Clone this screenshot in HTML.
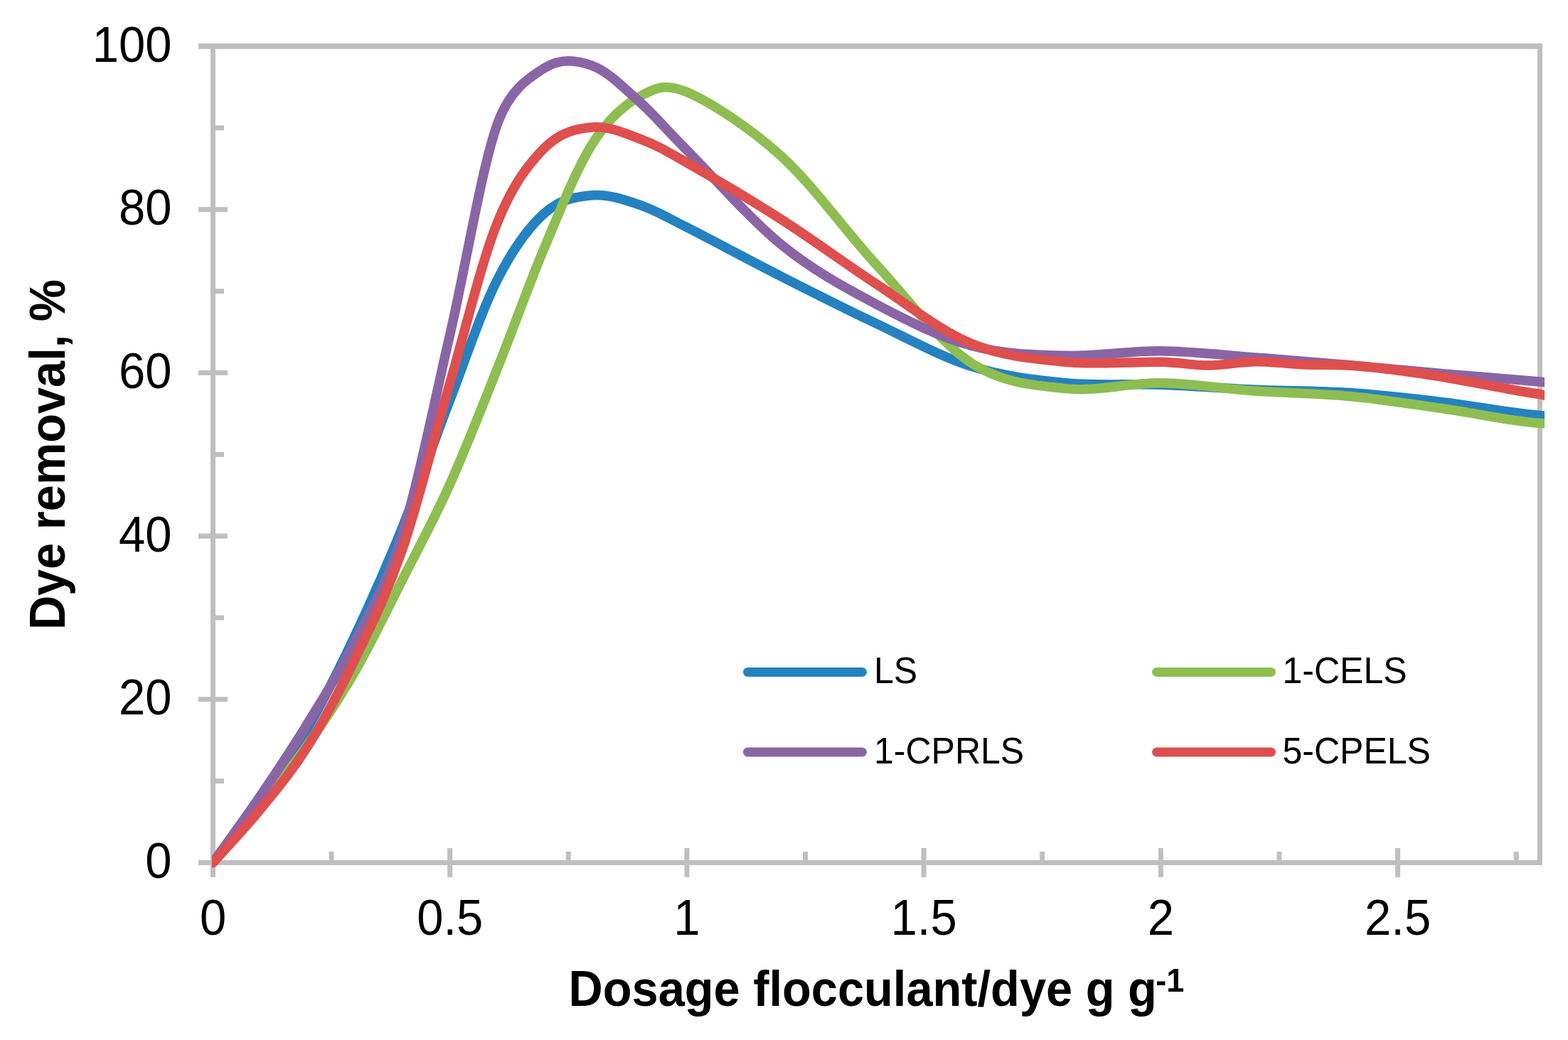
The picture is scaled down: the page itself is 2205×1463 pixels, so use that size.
<!DOCTYPE html>
<html><head><meta charset="utf-8"><title>Dye removal chart</title>
<style>html,body{margin:0;padding:0;background:#fff;}svg{display:block;}</style></head>
<body><svg xmlns="http://www.w3.org/2000/svg" width="2205" height="1463" viewBox="0 0 2205 1463">
<rect x="0" y="0" width="2205" height="1463" fill="#fff"/>
<rect x="279" y="61" width="1890" height="8" fill="#BFBFBF"/>
<rect x="2162" y="61" width="7" height="1156" fill="#BFBFBF"/>
<rect x="279" y="1210" width="1890" height="7" fill="#BFBFBF"/>
<rect x="296" y="61" width="7" height="1173" fill="#BFBFBF"/>
<rect x="279" y="1210.0" width="41" height="7" fill="#BFBFBF"/>
<rect x="279" y="980.3" width="41" height="7" fill="#BFBFBF"/>
<rect x="279" y="750.6" width="41" height="7" fill="#BFBFBF"/>
<rect x="279" y="520.9" width="41" height="7" fill="#BFBFBF"/>
<rect x="279" y="291.2" width="41" height="7" fill="#BFBFBF"/>
<rect x="279" y="61.5" width="41" height="7" fill="#BFBFBF"/>
<rect x="303" y="1095.2" width="12" height="7" fill="#BFBFBF"/>
<rect x="303" y="865.5" width="12" height="7" fill="#BFBFBF"/>
<rect x="303" y="635.8" width="12" height="7" fill="#BFBFBF"/>
<rect x="303" y="406.1" width="12" height="7" fill="#BFBFBF"/>
<rect x="303" y="176.4" width="12" height="7" fill="#BFBFBF"/>
<rect x="296.0" y="1193" width="7" height="41" fill="#BFBFBF"/>
<rect x="629.2" y="1193" width="7" height="41" fill="#BFBFBF"/>
<rect x="962.4" y="1193" width="7" height="41" fill="#BFBFBF"/>
<rect x="1295.6" y="1193" width="7" height="41" fill="#BFBFBF"/>
<rect x="1628.9" y="1193" width="7" height="41" fill="#BFBFBF"/>
<rect x="1962.1" y="1193" width="7" height="41" fill="#BFBFBF"/>
<rect x="462.6" y="1198" width="7" height="12" fill="#BFBFBF"/>
<rect x="795.8" y="1198" width="7" height="12" fill="#BFBFBF"/>
<rect x="1129.0" y="1198" width="7" height="12" fill="#BFBFBF"/>
<rect x="1462.2" y="1198" width="7" height="12" fill="#BFBFBF"/>
<rect x="1795.5" y="1198" width="7" height="12" fill="#BFBFBF"/>
<rect x="2128.7" y="1198" width="7" height="12" fill="#BFBFBF"/>
<defs><clipPath id="pc"><rect x="298" y="0" width="1874" height="1463"/></clipPath></defs>
<g clip-path="url(#pc)" fill="none" stroke-width="13.5" stroke-linecap="round" stroke-linejoin="round">
<path stroke="#2482C1" d="M299.50,1213.50 C310.61,1199.28 343.93,1159.77 366.14,1128.17 C388.36,1096.57 410.57,1063.00 432.79,1023.91 C455.00,984.83 477.21,940.74 499.43,893.65 C521.64,846.57 543.86,796.55 566.07,741.39 C588.29,686.23 610.50,620.66 632.71,562.69 C654.93,504.71 677.14,437.38 699.36,393.54 C721.57,349.71 743.79,319.46 766.00,299.66 C788.21,279.86 810.43,276.65 832.64,274.73 C854.86,272.81 877.07,280.63 899.29,288.15 C921.50,295.66 933.00,303.18 965.93,319.81 C999.25,336.65 1054.79,366.60 1099.21,389.17 C1143.64,411.74 1188.07,434.22 1232.50,455.23 C1276.93,476.24 1321.36,501.31 1365.79,515.22 C1410.21,529.14 1454.64,534.39 1499.07,538.72 C1543.50,543.04 1587.93,539.60 1632.36,541.18 C1676.79,542.76 1721.21,546.28 1765.64,548.18 C1810.07,550.09 1854.50,549.61 1898.93,552.60 C1943.36,555.59 1987.79,560.81 2032.21,566.13 C2076.64,571.45 2121.07,580.61 2165.50,584.54 C2209.93,588.47 2276.57,588.85 2298.79,589.71"/>
<path stroke="#8EBE51" d="M299.50,1213.50 C310.61,1200.33 343.93,1162.15 366.14,1134.48 C388.36,1106.80 410.57,1079.18 432.79,1047.45 C455.00,1015.72 477.21,982.83 499.43,944.10 C521.64,905.38 543.86,858.94 566.07,815.11 C588.29,771.28 610.50,730.53 632.71,681.11 C654.93,631.69 677.14,574.22 699.36,518.59 C721.57,462.96 743.79,399.93 766.00,347.33 C788.21,294.73 810.43,238.23 832.64,202.99 C854.86,167.74 877.07,148.10 899.29,135.87 C921.50,123.63 935.09,116.57 965.93,129.59 C999.25,143.65 1054.79,179.75 1099.21,220.24 C1143.64,260.74 1188.07,324.17 1232.50,372.55 C1276.93,420.94 1321.36,481.53 1365.79,510.55 C1410.21,539.56 1454.64,541.91 1499.07,546.62 C1543.50,551.34 1587.93,538.27 1632.36,538.85 C1676.79,539.42 1721.21,546.95 1765.64,550.05 C1810.07,553.15 1854.50,553.25 1898.93,557.45 C1943.36,561.65 1987.79,568.92 2032.21,575.24 C2076.64,581.55 2121.07,592.06 2165.50,595.34 C2209.93,598.63 2276.57,595.01 2298.79,594.94"/>
<path stroke="#8A65A6" d="M299.50,1213.50 C310.61,1197.85 343.93,1152.29 366.14,1119.60 C388.36,1086.92 410.57,1053.60 432.79,1017.38 C455.00,981.15 477.21,946.73 499.43,902.25 C521.64,857.77 543.86,822.39 566.07,750.48 C588.29,678.58 610.50,566.80 632.71,470.82 C654.93,374.84 677.14,237.16 699.36,174.61 C716.67,125.87 743.79,109.19 766.00,95.49 C788.21,81.79 810.43,84.45 832.64,92.39 C854.86,100.33 877.07,123.34 899.29,143.14 C921.50,162.94 932.61,177.61 965.93,211.18 C999.25,244.75 1054.79,308.40 1099.21,344.56 C1143.64,380.73 1188.07,404.55 1232.50,428.16 C1276.93,451.77 1321.36,474.18 1365.79,486.20 C1410.21,498.23 1454.64,499.07 1499.07,500.32 C1543.50,501.58 1587.93,493.31 1632.36,493.73 C1676.79,494.16 1721.21,499.53 1765.64,502.87 C1810.07,506.21 1854.50,509.94 1898.93,513.78 C1943.36,517.63 1987.79,522.05 2032.21,525.93 C2076.64,529.81 2121.07,533.02 2165.50,537.08 C2209.93,541.14 2276.57,548.07 2298.79,550.27"/>
<path stroke="#DE4F4D" d="M299.50,1213.50 C310.61,1201.00 343.93,1165.83 366.14,1138.53 C388.36,1111.22 410.57,1085.01 432.79,1049.68 C455.00,1014.36 477.21,972.85 499.43,926.59 C521.64,880.33 543.86,836.73 566.07,772.13 C588.29,707.52 610.50,615.43 632.71,538.95 C654.93,462.46 677.14,368.42 699.36,313.24 C721.57,258.05 743.79,230.20 766.00,207.83 C788.21,185.46 810.43,181.13 832.64,179.00 C854.86,176.87 877.07,186.75 899.29,195.06 C921.50,203.36 933.47,210.36 965.93,228.85 C999.25,247.84 1054.79,280.49 1099.21,308.96 C1143.64,337.42 1188.07,370.60 1232.50,399.66 C1276.93,428.71 1321.36,465.00 1365.79,483.26 C1410.21,501.53 1454.64,504.91 1499.07,509.25 C1543.50,513.59 1599.04,508.50 1632.36,509.31 C1665.68,510.11 1676.79,514.18 1699.00,514.09 C1721.21,514.00 1743.43,508.98 1765.64,508.75 C1787.86,508.53 1810.07,511.83 1832.29,512.72 C1854.50,513.62 1876.71,512.75 1898.93,514.13 C1921.14,515.51 1943.36,518.21 1965.57,520.99 C1987.79,523.78 2010.00,527.17 2032.21,530.84 C2054.43,534.51 2076.64,539.10 2098.86,543.03 C2121.07,546.97 2143.29,551.69 2165.50,554.44 C2187.71,557.19 2230.15,592.90 2232.14,559.54 C2254.36,187.44 2287.68,-1305.17 2298.79,-1678.11"/>
</g>
<text transform="translate(241.6,1235.0) scale(1,1.04)" text-anchor="end" font-size="67" font-weight="normal" style="font-family:'Liberation Sans', Arial, sans-serif" >0</text>
<text transform="translate(241.6,1005.3) scale(1,1.04)" text-anchor="end" font-size="67" font-weight="normal" style="font-family:'Liberation Sans', Arial, sans-serif" >20</text>
<text transform="translate(241.6,775.6) scale(1,1.04)" text-anchor="end" font-size="67" font-weight="normal" style="font-family:'Liberation Sans', Arial, sans-serif" >40</text>
<text transform="translate(241.6,545.9) scale(1,1.04)" text-anchor="end" font-size="67" font-weight="normal" style="font-family:'Liberation Sans', Arial, sans-serif" >60</text>
<text transform="translate(241.6,316.2) scale(1,1.04)" text-anchor="end" font-size="67" font-weight="normal" style="font-family:'Liberation Sans', Arial, sans-serif" >80</text>
<text transform="translate(241.6,86.5) scale(1,1.04)" text-anchor="end" font-size="67" font-weight="normal" style="font-family:'Liberation Sans', Arial, sans-serif" >100</text>
<text transform="translate(299.5,1315) scale(1,1.04)" text-anchor="middle" font-size="67" font-weight="normal" style="font-family:'Liberation Sans', Arial, sans-serif" >0</text>
<text transform="translate(632.7,1315) scale(1,1.04)" text-anchor="middle" font-size="67" font-weight="normal" style="font-family:'Liberation Sans', Arial, sans-serif" >0.5</text>
<text transform="translate(965.9,1315) scale(1,1.04)" text-anchor="middle" font-size="67" font-weight="normal" style="font-family:'Liberation Sans', Arial, sans-serif" >1</text>
<text transform="translate(1299.1,1315) scale(1,1.04)" text-anchor="middle" font-size="67" font-weight="normal" style="font-family:'Liberation Sans', Arial, sans-serif" >1.5</text>
<text transform="translate(1632.4,1315) scale(1,1.04)" text-anchor="middle" font-size="67" font-weight="normal" style="font-family:'Liberation Sans', Arial, sans-serif" >2</text>
<text transform="translate(1965.6,1315) scale(1,1.04)" text-anchor="middle" font-size="67" font-weight="normal" style="font-family:'Liberation Sans', Arial, sans-serif" >2.5</text>
<text transform="translate(91,639.5) rotate(-90) scale(0.9959,1.04)" text-anchor="middle" font-size="67" font-weight="bold" style="font-family:'Liberation Sans', Arial, sans-serif">Dye removal, %</text>
<text transform="translate(799.5,1415) scale(0.9967,1.04)" font-size="67" font-weight="bold" style="font-family:'Liberation Sans', Arial, sans-serif">Dosage flocculant/dye g g</text>
<text transform="translate(1625.2,1395) scale(1,1.04)" font-size="45" font-weight="bold" style="font-family:'Liberation Sans', Arial, sans-serif">-1</text>
<line x1="1051.5" y1="945.4" x2="1212.5" y2="945.4" stroke="#2482C1" stroke-width="13" stroke-linecap="round"/>
<text transform="translate(1229,960.5) scale(1,1.04)" text-anchor="start" font-size="50" font-weight="normal" style="font-family:'Liberation Sans', Arial, sans-serif" >LS</text>
<line x1="1626.5" y1="945.4" x2="1787.5" y2="945.4" stroke="#8EBE51" stroke-width="13" stroke-linecap="round"/>
<text transform="translate(1803.5,960.5) scale(1,1.04)" text-anchor="start" font-size="50" font-weight="normal" style="font-family:'Liberation Sans', Arial, sans-serif" >1-CELS</text>
<line x1="1051.5" y1="1058" x2="1212.5" y2="1058" stroke="#8A65A6" stroke-width="13" stroke-linecap="round"/>
<text transform="translate(1229,1073.5) scale(1,1.04)" text-anchor="start" font-size="50" font-weight="normal" style="font-family:'Liberation Sans', Arial, sans-serif" >1-CPRLS</text>
<line x1="1626.5" y1="1058" x2="1787.5" y2="1058" stroke="#DE4F4D" stroke-width="13" stroke-linecap="round"/>
<text transform="translate(1803.5,1073.5) scale(1,1.04)" text-anchor="start" font-size="50" font-weight="normal" style="font-family:'Liberation Sans', Arial, sans-serif" >5-CPELS</text>
</svg></body></html>
